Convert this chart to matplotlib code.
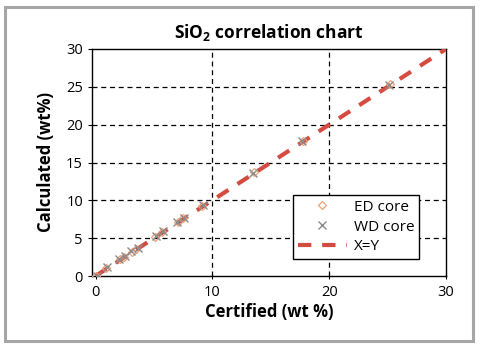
import matplotlib
matplotlib.use("Agg")
import matplotlib.pyplot as plt
from matplotlib.patches import Rectangle

plt.rcParams["font.family"] = ["Open Sans", "DejaVu Sans"]

# SiO2 certified vs calculated (wt%)
ed_cert = [0.0, 0.9, 2.1, 2.4, 3.1, 3.5, 5.1, 5.7, 7.1, 7.5, 9.1, 13.6, 17.8, 25.2]
ed_calc = [0.0, 1.1, 2.2, 2.5, 3.2, 3.6, 5.2, 5.8, 7.2, 7.6, 9.3, 13.7, 17.9, 25.4]
wd_cert = [0.1, 1.0, 2.0, 2.5, 3.0, 3.6, 5.2, 5.8, 7.0, 7.6, 9.2, 13.5, 17.7, 25.1]
wd_calc = [0.0, 1.2, 2.3, 2.6, 3.3, 3.7, 5.3, 5.9, 7.2, 7.7, 9.4, 13.6, 17.8, 25.3]
xy_line = [0, 30]

xticks = [0, 10, 20, 30]
yticks = [0, 5, 10, 15, 20, 25, 30]

fig = plt.figure(figsize=(4.8, 3.47), dpi=100)
ax = fig.add_axes([92 / 480, 1 - 276 / 347, 354 / 480, 227 / 347])

# grey frame around the whole chart
fig.patches.append(Rectangle((5 / 480, 6 / 347), 468 / 480, 334 / 347,
                             transform=fig.transFigure, fill=False,
                             edgecolor="#a6a6a6", linewidth=2.2))

ax.plot(ed_cert, ed_calc, linestyle="none", marker="D", markersize=4,
        markerfacecolor="none", markeredgecolor="#e8a47a", markeredgewidth=0.9,
        label="ED core", zorder=4)
ax.plot(wd_cert, wd_calc, linestyle="none", marker="x", markersize=6,
        color="#8c8c8c", markeredgewidth=1.0, label="WD core", zorder=5)
ax.plot(xy_line, xy_line, color="#d64b40", linewidth=3,
        dashes=(3.2, 2.6), label="X=Y", zorder=3)

ax.set_xlim(-0.3, 30)
ax.set_ylim(0, 30)
ax.set_xticks(xticks)
ax.set_yticks(yticks)
ax.tick_params(axis="both", labelsize=10.5, length=3, width=0.8, color="black")
ax.tick_params(axis="x", direction="inout", length=5, pad=4)

for v in [10, 20]:
    ax.axvline(v, color="black", linewidth=0.9, dashes=(4, 3), zorder=1)
for v in [5, 10, 15, 20, 25]:
    ax.axhline(v, color="black", linewidth=0.9, dashes=(4, 3), zorder=1)

for s in ax.spines.values():
    s.set_linewidth(1.0)

ax.set_xlabel("Certified (wt %)", fontsize=12, fontweight="bold", labelpad=2)
ax.set_ylabel("Calculated (wt%)", fontsize=12, fontweight="bold", labelpad=8)
ax.set_title("SiO$_\\mathregular{2}$ correlation chart", fontsize=12.5,
             fontweight="bold", pad=8)

leg = ax.legend(loc="lower right", bbox_to_anchor=(0.925, 0.075), fontsize=11,
                frameon=True, fancybox=False, edgecolor="black", framealpha=1,
                borderpad=0.3, labelspacing=0.32, handlelength=3.2,
                handletextpad=0.5, borderaxespad=0)
leg.get_frame().set_linewidth(1.0)
leg.set_zorder(6)

fig.savefig("out.png", dpi=100)
